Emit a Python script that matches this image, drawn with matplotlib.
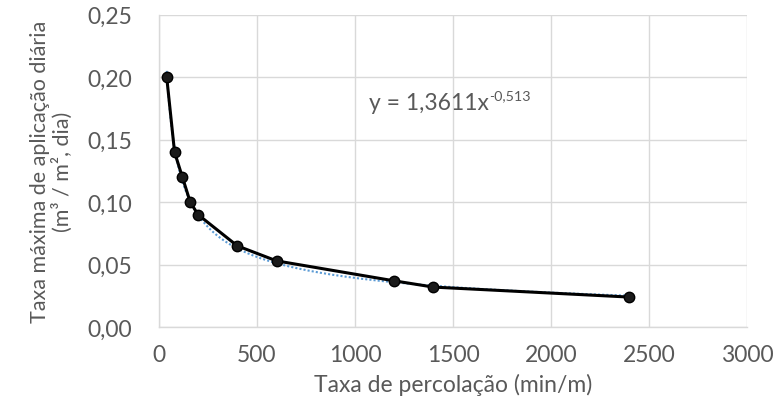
import matplotlib
matplotlib.use("Agg")
import matplotlib.pyplot as plt
import numpy as np

plt.rcParams['font.family'] = ['Lato', 'DejaVu Sans']

percolacao = [40, 80, 120, 160, 200, 400, 600, 1200, 1400, 2400]
taxa_aplicacao = [0.20, 0.14, 0.12, 0.10, 0.09, 0.065, 0.053, 0.037, 0.032, 0.024]
x_ticks = [0, 500, 1000, 1500, 2000, 2500, 3000]
y_ticks = [0.00, 0.05, 0.10, 0.15, 0.20, 0.25]
trend_a = 1.3611
trend_b = -0.513

FS = 16.5
GRAY = '#595959'

fig = plt.figure(figsize=(7.75, 4.06), dpi=100)
ax = fig.add_axes([0.205, 0.192, 0.759, 0.769])

xt = np.linspace(min(percolacao), max(percolacao), 400)
ax.plot(xt, trend_a * xt ** trend_b, color='#5b9bd5', lw=1.5, ls=(0, (1, 1)), zorder=2)
ax.plot(percolacao, taxa_aplicacao, color='black', lw=2.2, marker='o', ms=7.5,
        markerfacecolor='#1a1a1a', markeredgecolor='black', zorder=3)

ax.set_xlim(0, 3000)
ax.set_ylim(0, 0.25)
ax.set_xticks(x_ticks)
ax.set_yticks(y_ticks)
ax.set_xticklabels([str(v) for v in x_ticks])
ax.set_yticklabels([f"{v:.2f}".replace('.', ',') for v in y_ticks])
ax.grid(True, color='#d9d9d9', lw=1)
ax.set_axisbelow(True)
for s in ['top', 'right']:
    ax.spines[s].set_visible(False)
for s in ['left', 'bottom']:
    ax.spines[s].set_color('#d9d9d9')
    ax.spines[s].set_linewidth(1)
ax.tick_params(axis='both', length=0, labelsize=FS, colors=GRAY)
ax.tick_params(axis='y', pad=19)
ax.tick_params(axis='x', pad=12)

ax.set_xlabel('Taxa de percolação (min/m)', fontsize=FS, color=GRAY)
ax.xaxis.set_label_coords(0.5, -0.148)
ax.set_ylabel('Taxa máxima de aplicação diária\n(m³ / m², dia)', fontsize=15.5,
              color=GRAY, linespacing=1.1)
ax.yaxis.set_label_coords(-0.146, 0.5)

t = ax.text(0.357, 0.72, 'y = 1,3611x', transform=ax.transAxes,
            fontsize=FS, color=GRAY, ha='left', va='center')
ax.annotate('-0,513', xy=(1.0, 0.55), xycoords=t, fontsize=FS * 0.62,
            color=GRAY, ha='left', va='bottom')

fig.savefig('out.png', dpi=100)
